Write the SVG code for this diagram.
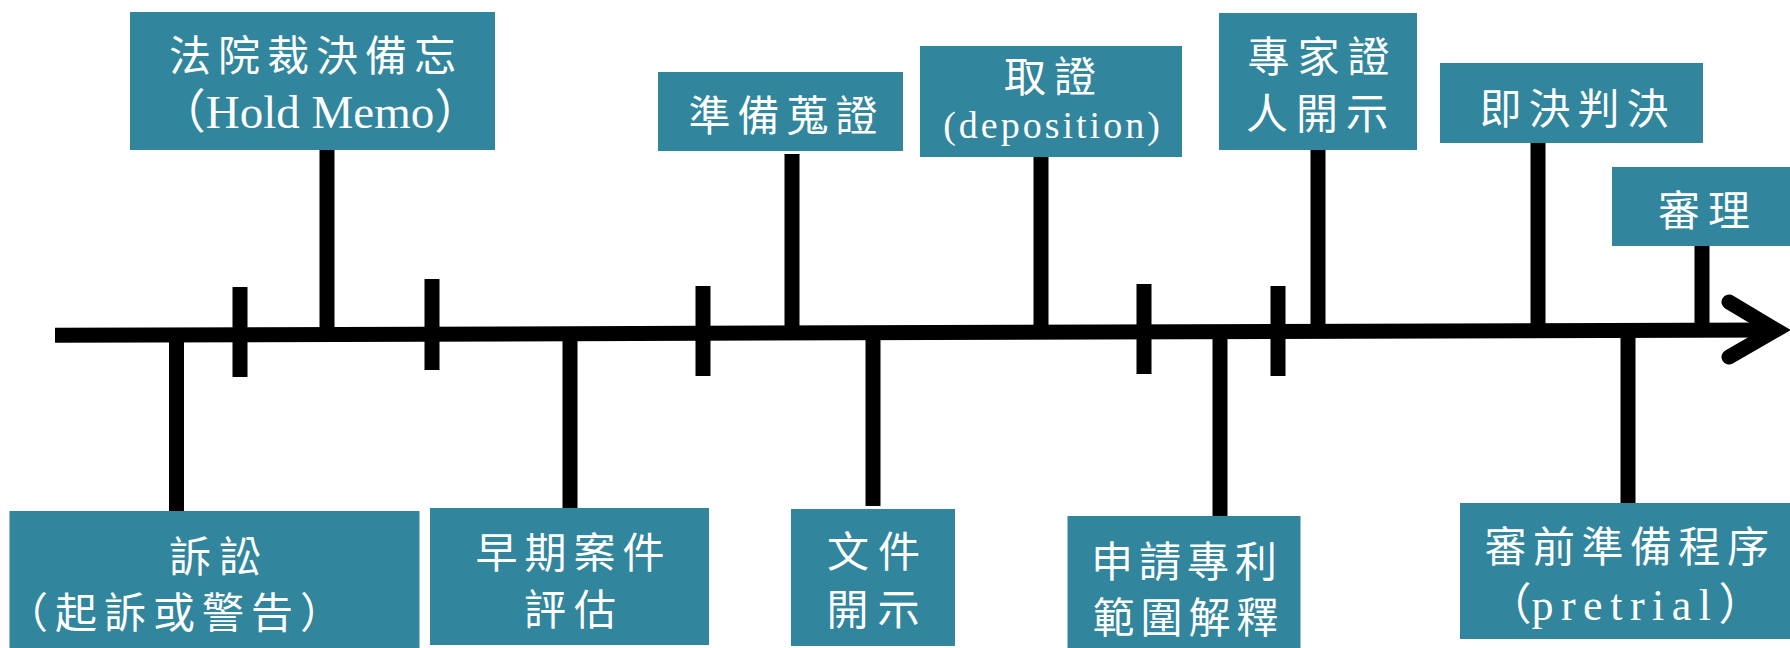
<svg xmlns="http://www.w3.org/2000/svg" width="1790" height="648" viewBox="0 0 1790 648">
<style>
.box{fill:#31859c}
.t{fill:#fff;font-family:"Noto Sans CJK TC","Noto Sans CJK SC",sans-serif;font-size:42px;text-anchor:middle}
.m{fill:#fff;font-family:"Liberation Serif","Noto Sans CJK TC",serif;text-anchor:middle}
.ln{stroke:#000;stroke-width:15;fill:none}
</style>
<rect width="1790" height="648" fill="#fff"/>
<g id="connectors">
<line class="ln" x1="55" y1="335.3" x2="1774" y2="330" stroke-width="16"/>
<polyline class="ln" points="1729,302 1776,330 1729,357" stroke-linecap="round" stroke-linejoin="miter"/>
<line class="ln" x1="240" y1="287" x2="240" y2="377"/>
<line class="ln" x1="432" y1="279" x2="432" y2="370"/>
<line class="ln" x1="703" y1="286" x2="703" y2="376"/>
<line class="ln" x1="1144" y1="284" x2="1144" y2="374"/>
<line class="ln" x1="1278" y1="286" x2="1278" y2="376"/>
<line class="ln" x1="327" y1="150" x2="327" y2="335"/>
<line class="ln" x1="792" y1="154" x2="792" y2="333.5"/>
<line class="ln" x1="1041" y1="157" x2="1041" y2="332.7"/>
<line class="ln" x1="1318" y1="150" x2="1318" y2="331.8"/>
<line class="ln" x1="1538" y1="143" x2="1538" y2="331"/>
<line class="ln" x1="1702" y1="246" x2="1702" y2="330.5"/>
<line class="ln" x1="176.5" y1="334.9" x2="176.5" y2="511"/>
<line class="ln" x1="570" y1="333.6" x2="570" y2="508"/>
<line class="ln" x1="873" y1="332.8" x2="873" y2="506"/>
<line class="ln" x1="1220" y1="331.7" x2="1220" y2="516"/>
<line class="ln" x1="1628" y1="330.5" x2="1628" y2="503"/>
</g>
<g id="n-hold">
<rect class="box" x="130" y="12" width="365" height="138"/>
<text class="t" x="316" y="71" letter-spacing="7">法院裁決備忘</text>
<text class="m" x="320" y="128" font-size="47">（Hold Memo）</text>
</g>
<g id="n-prep">
<rect class="box" x="658" y="72" width="245" height="79"/>
<text class="t" x="786.5" y="131" letter-spacing="7">準備蒐證</text>
</g>
<g id="n-depo">
<rect class="box" x="920" y="46" width="262" height="111"/>
<text class="t" x="1054" y="92" font-size="28" letter-spacing="8">取證</text>
<text class="m" x="1053" y="138" font-size="38" letter-spacing="3">(deposition)</text>
</g>
<g id="n-expert">
<rect class="box" x="1219" y="13" width="198" height="137"/>
<text class="t" x="1322.5" y="71.5" letter-spacing="8">專家證</text>
<text class="t" x="1321" y="128.5" letter-spacing="8">人開示</text>
</g>
<g id="n-summary">
<rect class="box" x="1440" y="63" width="263" height="80"/>
<text class="t" x="1577.5" y="123.5" letter-spacing="7">即決判決</text>
</g>
<g id="n-trial">
<rect class="box" x="1612" y="167" width="178" height="79"/>
<text class="t" x="1708" y="225.5" letter-spacing="8">審理</text>
</g>
<g id="n-suit">
<rect class="box" x="9.5" y="511" width="410" height="137"/>
<text class="t" x="219" y="572" letter-spacing="8">訴訟</text>
<text class="t" x="177.5" y="627.5" letter-spacing="7">（起訴或警告）</text>
</g>
<g id="n-early">
<rect class="box" x="430" y="508" width="279" height="137"/>
<text class="t" x="573.5" y="568" letter-spacing="7">早期案件</text>
<text class="t" x="574" y="624.5" letter-spacing="8">評估</text>
</g>
<g id="n-doc">
<rect class="box" x="791" y="509" width="164" height="137"/>
<text class="t" x="878" y="567" letter-spacing="9">文件</text>
<text class="t" x="877.5" y="624.5" letter-spacing="9">開示</text>
</g>
<g id="n-claim">
<rect class="box" x="1067.5" y="516" width="233" height="132"/>
<text class="t" x="1187" y="576.5" letter-spacing="6">申請專利</text>
<text class="t" x="1188.5" y="632.5" letter-spacing="6">範圍解釋</text>
</g>
<g id="n-pretrial">
<rect class="box" x="1460" y="503" width="330" height="136"/>
<text class="t" x="1630" y="562" letter-spacing="6.5">審前準備程序</text>
<text class="m" x="1625" y="620" font-size="44">（<tspan letter-spacing="7.5">pretrial</tspan>）</text>
</g>
</svg>
